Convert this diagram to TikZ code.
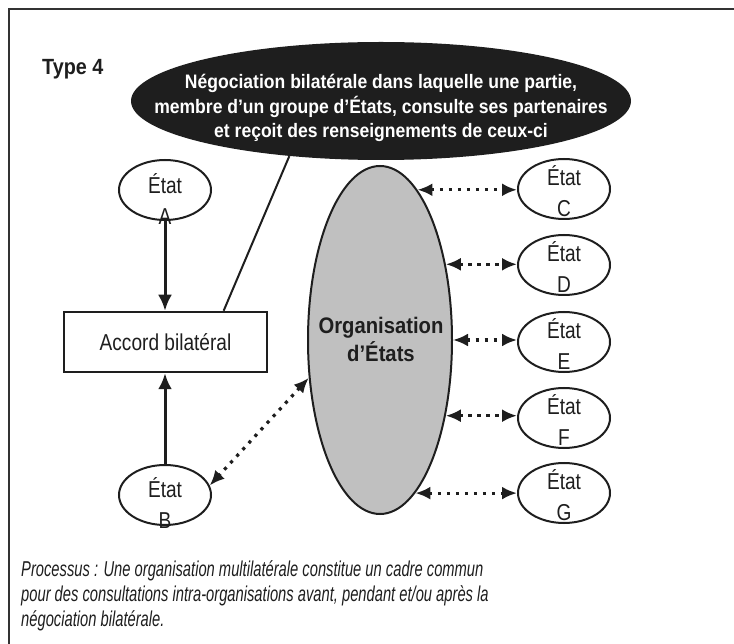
\documentclass[tikz,border=0pt]{standalone}
\usepackage{fontspec}
\setmainfont{Liberation Sans}
\newfontfamily\labelfont[FakeStretch=0.83]{Liberation Sans}
\newfontfamily\heavyfont[FakeStretch=0.9]{Liberation Sans}
\newfontfamily\notefont[FakeStretch=0.685]{Liberation Sans}
\usetikzlibrary{arrows.meta,shapes.geometric,calc}
\definecolor{ink}{HTML}{1E1E1E}
\definecolor{orggray}{HTML}{C0C0C0}

\begin{document}
\begin{tikzpicture}[x=1pt,y=-1pt,
  state/.style={ellipse,draw=ink,line width=2pt,minimum width=92pt,minimum height=60pt,inner sep=0pt},
  statelabel/.style={font=\labelfont\fontsize{23}{31}\selectfont,text=ink,align=center,inner sep=0pt},
  solidarrow/.style={draw=ink,line width=3pt,-{Latex[length=16pt,width=14pt]}},
  dotarrow/.style={draw=ink,line width=3.2pt,dash pattern=on 3.2pt off 5.8pt,
    {Latex[length=15pt,width=13pt]}-{Latex[length=15pt,width=13pt]}},
]
\useasboundingbox (0,0) rectangle (734,644);

% frame
\draw[line width=2pt,draw=black!80] (9,644) -- (9,9) -- (734,9);

% title
\node[anchor=west,inner sep=0pt,font=\heavyfont\bfseries\fontsize{22}{26}\selectfont,text=ink] (type) at (42,69) {Type 4};

% negotiation bubble
\node[ellipse,fill=ink,minimum width=500pt,minimum height=118pt,inner sep=0pt] (neg) at (381,101) {};
\node[font=\heavyfont\bfseries\fontsize{19.5}{24.5}\selectfont,text=white,align=center,inner sep=0pt] (negtext) at (381,108)
  {Négociation bilatérale dans laquelle une partie,\\membre d’un groupe d’États, consulte ses partenaires\\et reçoit des renseignements de ceux-ci};

% organisation
\node[ellipse,draw=ink,line width=2pt,fill=orggray,minimum width=144pt,minimum height=348pt,inner sep=0pt] (org) at (380,340) {};
\node[font=\heavyfont\bfseries\fontsize{22.5}{28}\selectfont,text=ink,align=center,inner sep=0pt] (orgtext) at (381,339) {Organisation\\d’États};

% agreement box
\node[draw=ink,line width=2.5pt,minimum width=203pt,minimum height=60pt,inner sep=0pt,
  font=\labelfont\fontsize{23}{27}\selectfont,text=ink] (acc) at (165.5,342) {Accord bilatéral};

% states
\node[state] (A) at (165,190) {};
\node[statelabel] (Atext) at (165,199) {État\\A};
\node[state] (B) at (165,495) {};
\node[statelabel] (Btext) at (165,503) {État\\B};
\node[state] (C) at (564,189) {};
\node[statelabel] (Ctext) at (564,191) {État\\C};
\node[state] (D) at (564,265) {};
\node[statelabel] (Dtext) at (564,267) {État\\D};
\node[state] (E) at (564,342) {};
\node[statelabel] (Etext) at (564,344) {État\\E};
\node[state] (F) at (564,418) {};
\node[statelabel] (Ftext) at (564,420) {État\\F};
\node[state] (G) at (564,493) {};
\node[statelabel] (Gtext) at (564,495) {État\\G};

% connectors
\draw[solidarrow] (A.south) -- (A.south |- acc.north);
\draw[solidarrow] (B.north) -- (B.north |- acc.south);
\draw[draw=ink,line width=2pt] (neg.211) -- ($(acc.north west)!0.783!(acc.north east)$);

\draw[dotarrow] (org.76.6) -- (org.76.6 -| C.west);
\draw[dotarrow] (org.49.5) -- (org.49.5 -| D.west);
\draw[dotarrow] (org.-0.5) -- (org.-0.5 -| E.west);
\draw[dotarrow] (org.-49.8) -- (org.-49.8 -| F.west);
\draw[dotarrow] (org.-77) -- (org.-77 -| G.west);
\draw[dotarrow] (org.208.5) -- (B.12);

% process note
\node[anchor=north west,inner sep=0pt,align=left,text=ink,
  font=\notefont\itshape\fontsize{21.5}{25}\selectfont] (note) at (21,560)
  {Processus : Une organisation multilatérale constitue un cadre commun\\
   pour des consultations intra-organisations avant, pendant et/ou après la\\
   négociation bilatérale.};
\end{tikzpicture}
\end{document}
